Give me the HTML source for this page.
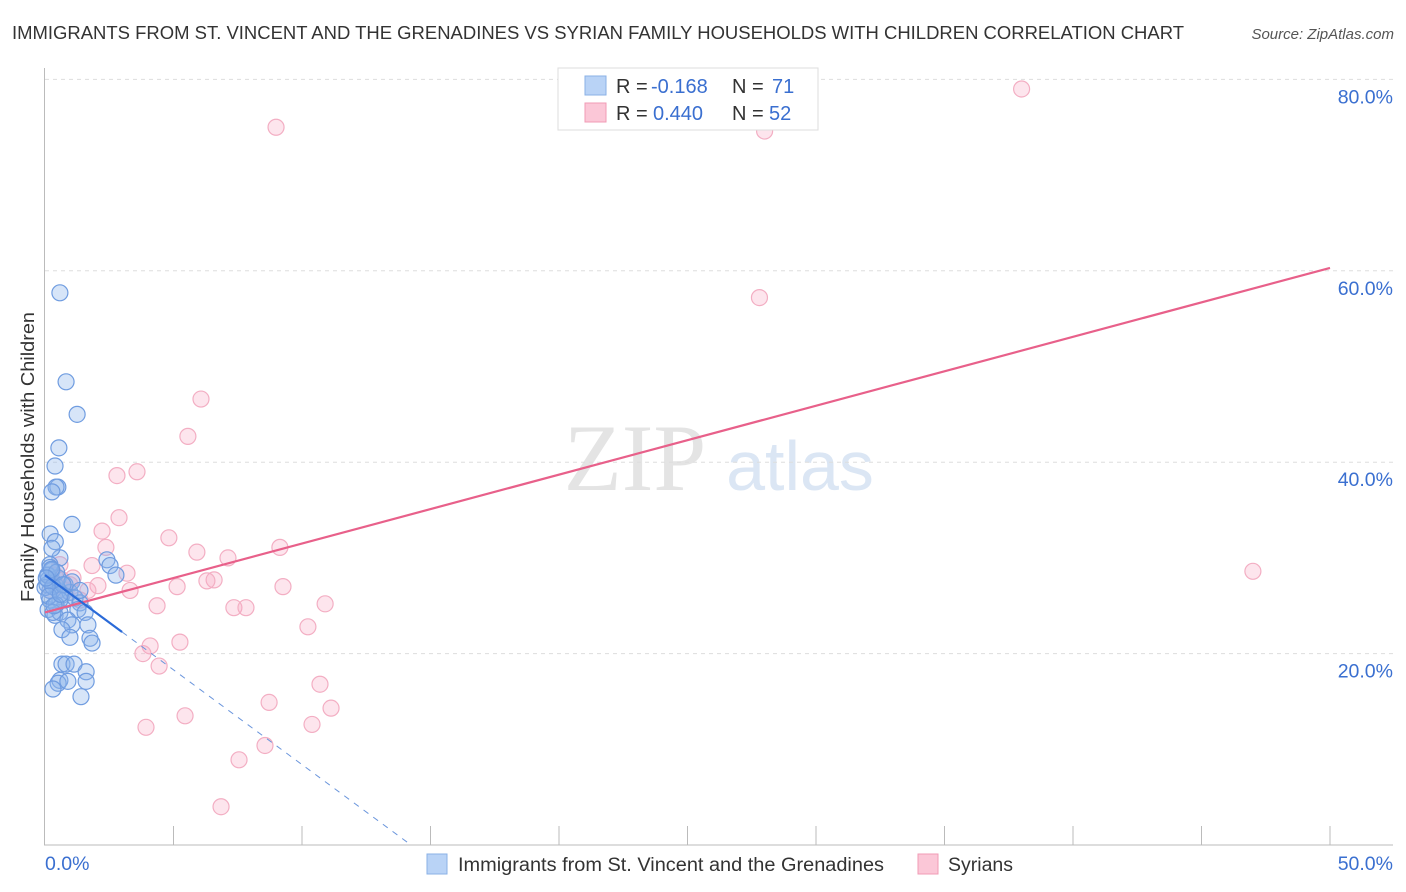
<!DOCTYPE html>
<html><head><meta charset="utf-8"><style>
body{margin:0;background:#fff;font-family:"Liberation Sans",sans-serif;}
svg{display:block}
</style></head><body>
<svg id="chart" width="1406" height="892">
<text x="12" y="39" font-size="18" fill="#333" textLength="1172" lengthAdjust="spacingAndGlyphs">IMMIGRANTS FROM ST. VINCENT AND THE GRENADINES VS SYRIAN FAMILY HOUSEHOLDS WITH CHILDREN CORRELATION CHART</text>
<text x="1394" y="39" font-size="15" fill="#555" font-style="italic" text-anchor="end">Source: ZipAtlas.com</text>
<text transform="translate(34,457) rotate(-90)" font-size="18.5" fill="#333" text-anchor="middle" textLength="290" lengthAdjust="spacingAndGlyphs">Family Households with Children</text>
<g><text x="635" y="490" font-size="95" fill="#e4e4e4" font-family="Liberation Serif,serif" text-anchor="middle">ZIP</text><text x="800" y="490" font-size="70" fill="#dbe6f4" text-anchor="middle">atlas</text></g>
<g id="grid"></g><g id="axes"></g><g id="pts"></g><g id="trend"></g>
<g>
<rect x="558" y="68" width="260" height="62" fill="#fff" stroke="#ddd"/>
<rect x="585" y="76" width="21" height="19" fill="#b9d3f6" stroke="#8ab0e6"/>
<rect x="585" y="103" width="21" height="19" fill="#fbc7d7" stroke="#f09bb5"/>
<text x="616" y="93" font-size="20" fill="#333">R = </text><text x="651" y="93" font-size="20" fill="#3a6fd0">-0.168</text><text x="732" y="93" font-size="20" fill="#333">N = </text><text x="772" y="93" font-size="20" fill="#3a6fd0">71</text>
<text x="616" y="120" font-size="20" fill="#333">R = </text><text x="653" y="120" font-size="20" fill="#3a6fd0">0.440</text><text x="732" y="120" font-size="20" fill="#333">N = </text><text x="769" y="120" font-size="20" fill="#3a6fd0">52</text>
</g>
<g>
<rect x="427" y="854" width="20" height="20" fill="#b9d3f6" stroke="#8ab0e6"/>
<text x="458" y="871" font-size="19" fill="#333" textLength="426" lengthAdjust="spacingAndGlyphs">Immigrants from St. Vincent and the Grenadines</text>
<rect x="918" y="854" width="20" height="20" fill="#fbc7d7" stroke="#f09bb5"/>
<text x="948" y="871" font-size="19" fill="#333" textLength="65" lengthAdjust="spacingAndGlyphs">Syrians</text>
</g>
</svg>
<script>
const blueX=[0.58,0.82,1.25,0.54,0.39,0.5,0.43,0.27,1.05,0.2,0.4,0.58,0.27,2.41,2.53,2.76,0.19,0.12,0.27,0.39,0.51,0.66,0.78,0.97,1.17,1.36,1.28,1.56,0.19,0.12,0.39,0.58,0.89,1.05,0.66,0.97,1.67,1.75,1.83,0.19,0.08,0.27,0.51,0.78,1.05,1.36,0.58,0.43,0.31,0.66,0.82,1.13,1.6,0.58,0.51,0.31,0.89,1.6,1.4,0.12,0,0.1,0.3,0.2,0.45,0.7,0.15,0.35,0.25,0.05,0.6];
const blueY=[57.7,48.4,45.0,41.5,39.6,37.4,37.4,36.9,33.5,32.5,31.7,30.0,31.0,29.8,29.2,28.2,29.3,28.2,27.7,27.2,26.6,26.1,25.6,26.4,25.8,25.3,24.6,24.3,25.6,24.6,24.0,24.3,23.5,23.0,22.5,21.7,23.0,21.6,21.1,26.6,27.2,28.7,27.9,27.2,27.5,26.6,25.6,25.1,24.3,18.9,18.9,18.9,18.1,17.2,16.9,16.3,17.1,17.1,15.5,27.7,26.9,28.2,27.0,29.0,28.5,27.2,26.0,25.0,28.8,27.9,26.2];
const pinkX=[38.0,8.99,28.0,27.8,6.07,5.56,3.58,2.80,2.88,2.22,4.82,2.37,5.91,9.14,7.12,1.83,3.19,1.09,0.66,0.97,2.06,1.67,3.31,6.58,6.30,5.14,9.26,4.36,7.35,7.82,10.9,10.23,4.09,5.25,3.81,4.44,10.7,8.72,11.13,5.45,3.93,10.39,8.56,7.55,6.85,47.0,0.39,0.58,0.19,0.82,1.36,0.43];
const pinkY=[79.0,75.0,74.6,57.2,46.6,42.7,39.0,38.6,34.2,32.8,32.1,31.1,30.6,31.1,30.0,29.2,28.4,27.9,27.7,27.2,27.1,26.6,26.6,27.7,27.6,27.0,27.0,25.0,24.8,24.8,25.2,22.8,20.8,21.2,20.0,18.7,16.8,14.9,14.3,13.5,12.3,12.6,10.4,8.9,4.0,28.6,28.2,29.3,26.6,26.6,25.6,27.2];
const yTicks=[20,40,60,80];
const xTickCount=10;
const pinkTrend=[24.3,60.3];   // y at x=0 and x=50
const blueTrend=[28.2,-1.98,3.0,14.2]; // intercept, slope, solid end, dashed end
const X=v=>45+v*25.7, Y=v=>845-v*9.57;
const NS="http://www.w3.org/2000/svg";
function mk(p,t,a){const e=document.createElementNS(NS,t);for(const k in a)e.setAttribute(k,a[k]);p.appendChild(e);return e;}
const grid=document.getElementById('grid'),axes=document.getElementById('axes'),pts=document.getElementById('pts'),tr=document.getElementById('trend');
yTicks.forEach(t=>{
 const l=mk(grid,'line',{x1:45,x2:1393,y1:Y(t),y2:Y(t),stroke:'#ddd','stroke-dasharray':'4,4'});
 
 
 const tx=mk(grid,'text',{x:1393,y:Y(t)+24,'font-size':19.5,fill:'#3a6fd0','text-anchor':'end'});
 tx.textContent=t.toFixed(1)+'%';
 
 
});
mk(axes,'line',{x1:44.5,x2:44.5,y1:68,y2:845,stroke:'#bbb'});
mk(axes,'line',{x1:44,x2:1393,y1:845,y2:845,stroke:'#bbb'});
for(let i=1;i<=xTickCount;i++){const v=i*5;const l=mk(axes,'line',{x1:X(v),x2:X(v),y1:826,y2:845,stroke:'#bbb'});
 
 }
const x0=mk(axes,'text',{x:45,y:870,'font-size':19.5,fill:'#3a6fd0'});x0.textContent='0.0%';


const x1=mk(axes,'text',{x:1393,y:870,'font-size':19.5,fill:'#3a6fd0','text-anchor':'end'});x1.textContent='50.0%';


pinkX.forEach((v,i)=>{const c=mk(pts,'circle',{cx:X(v),cy:Y(pinkY[i]),r:8,fill:'rgba(248,170,195,0.3)',stroke:'#f3aec3','stroke-width':1.2});
 
 });
blueX.forEach((v,i)=>{const c=mk(pts,'circle',{cx:X(v),cy:Y(blueY[i]),r:8,fill:'rgba(140,180,235,0.35)',stroke:'#6f9ce0','stroke-width':1.2});
 
 });
const pl=mk(tr,'line',{x1:X(0),y1:Y(pinkTrend[0]),x2:X(50),y2:Y(pinkTrend[1]),stroke:'#e8608a','stroke-width':2.2});


const by=x=>blueTrend[0]+blueTrend[1]*x;
const bl=mk(tr,'line',{x1:X(0),y1:Y(by(0)),x2:X(blueTrend[2]),y2:Y(by(blueTrend[2])),stroke:'#2a6ad8','stroke-width':2.2});


const bd=mk(tr,'line',{x1:X(blueTrend[2]),y1:Y(by(blueTrend[2])),x2:X(blueTrend[3]),y2:Y(by(blueTrend[3])),stroke:'#6a95dc','stroke-width':1,'stroke-dasharray':'6,6'});


</script>
</body></html>
